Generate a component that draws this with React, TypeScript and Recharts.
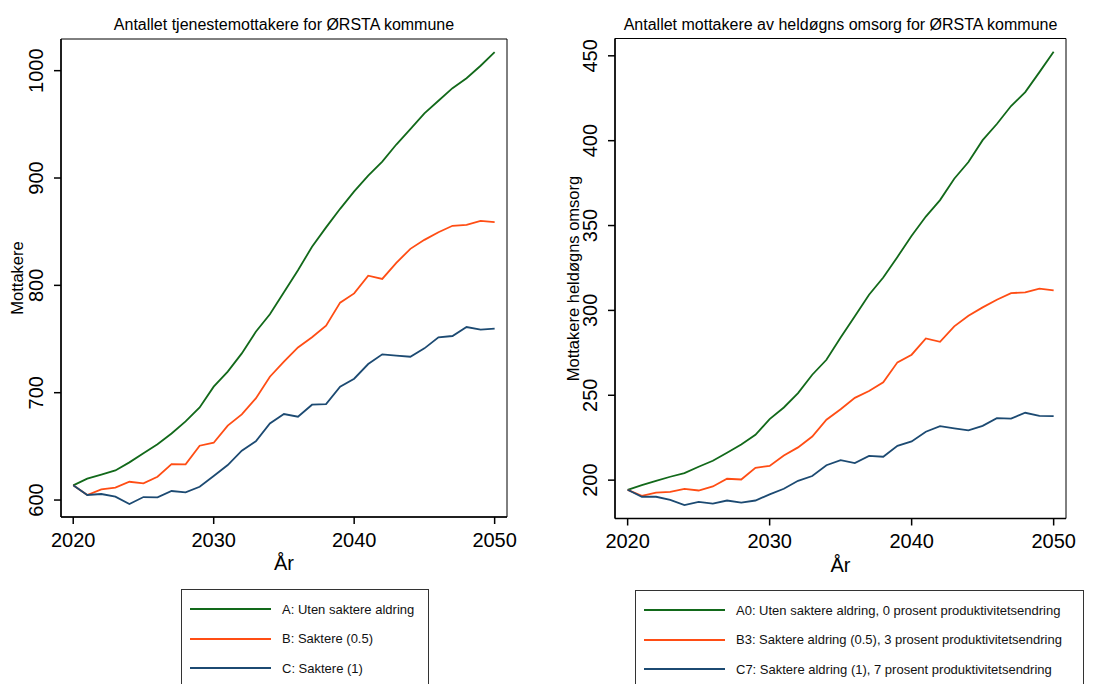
import React from 'react';
import { LineChart, Line, XAxis, YAxis, Legend, ReferenceArea, Label } from 'recharts';

const FONT = '"Liberation Sans", Arial, Helvetica, sans-serif';
const GREEN = '#12691a';
const ORANGE = '#ff4d14';
const BLUE = '#1c4a72';

const years = [
  2020, 2021, 2022, 2023, 2024, 2025, 2026, 2027, 2028, 2029, 2030,
  2031, 2032, 2033, 2034, 2035, 2036, 2037, 2038, 2039, 2040,
  2041, 2042, 2043, 2044, 2045, 2046, 2047, 2048, 2049, 2050,
];
const xTicks = [2020, 2030, 2040, 2050];

// Antallet tjenestemottakere
const tjenesteA = [613.7, 619.9, 623.6, 627.6, 635.1, 643.5, 651.9, 662, 673.3, 686.3, 705.6, 719.6, 736.6, 756.8, 773, 793.5, 814, 836, 854, 871.3, 887.5, 902.3, 915.3, 931.2, 945.5, 960.3, 972, 983.7, 993, 1004.6, 1017.3];
const tjenesteB = [613.7, 604.7, 610, 611.5, 617, 615.5, 621.7, 633.5, 633.2, 650.6, 653.4, 669.3, 679.8, 694.7, 714.9, 728.9, 742.2, 751.6, 762.4, 783.9, 792.5, 809, 806, 820.9, 834, 842.4, 849.5, 855.5, 856.4, 860, 858.9];
const tjenesteC = [613.7, 604.7, 605.6, 603.1, 596.3, 602.8, 602.5, 608.4, 607.1, 612.4, 622.4, 632.6, 646, 654.7, 671.4, 680.1, 677.6, 688.8, 689.4, 705.6, 713, 726.7, 735.7, 734.5, 733.5, 741.3, 751.6, 752.8, 761.2, 758.7, 759.6];
const tjenesteTicks = [600, 700, 800, 900, 1000];
const tjenesteNames = ['A: Uten saktere aldring', 'B: Saktere (0.5)', 'C: Saktere (1)'];

// Antallet mottakere av heldøgns omsorg
const heldognA = [194.3, 197.1, 199.6, 202, 204.1, 207.9, 211.4, 216.1, 221, 226.7, 236, 242.8, 251.3, 262.1, 270.9, 284.1, 296.5, 309.2, 319.4, 331.5, 344, 355.3, 365, 377.6, 387.4, 400.3, 409.8, 420.4, 428.6, 440.4, 452.4];
const heldognB = [194.3, 190.8, 192.7, 193.1, 194.9, 193.9, 196.3, 200.8, 200.4, 207.3, 208.4, 214.5, 219.3, 225.7, 235.6, 241.8, 248.5, 252.5, 257.6, 269.4, 273.9, 283.5, 281.5, 290.6, 296.9, 301.8, 306.3, 310.2, 310.6, 312.8, 311.8];
const heldognC = [194.3, 190.2, 190.2, 188.4, 185.3, 187.2, 186.2, 188, 186.8, 188, 191.6, 194.9, 199.6, 202.4, 208.8, 211.8, 210, 214.3, 213.8, 220.2, 222.8, 228.5, 231.8, 230.5, 229.3, 232, 236.5, 236.3, 239.7, 237.9, 237.7];
const heldognTicks = [200, 250, 300, 350, 400, 450];
const heldognNames = [
  'A0: Uten saktere aldring, 0 prosent produktivitetsendring',
  'B3: Saktere aldring (0.5), 3 prosent produktivitetsendring',
  'C7: Saktere aldring (1), 7 prosent produktivitetsendring',
];

const toRows = (a: number[], b: number[], c: number[]) =>
  years.map((year, i) => ({ year, a: a[i], b: b[i], c: c[i] }));

const XTick = ({ x, y, payload }: any) => (
  <text x={x} y={y + 22.7} textAnchor="middle" fontSize={20} fontFamily={FONT} fill="#000">
    {payload.value}
  </text>
);

const YTick = ({ x, y, payload }: any) => (
  <text x={x} y={y} transform={`rotate(-90 ${x} ${y})`} textAnchor="middle" fontSize={20} fontFamily={FONT} fill="#000">
    {payload.value}
  </text>
);

const LegendBox = ({ payload, width }: any) => (
  <div style={{
    width, height: 110, boxSizing: 'border-box', border: '1px solid #333',
    paddingTop: 4.5, fontFamily: FONT, fontSize: 13, color: '#111', background: '#fff',
  }}>
    {(payload || []).map((p: any) => (
      <div key={p.value} style={{ display: 'flex', alignItems: 'center', height: 29.5 }}>
        <span style={{ display: 'inline-block', width: 81, height: 2, marginLeft: 8.5, marginRight: 11, background: p.color }} />
        <span>{p.value}</span>
      </div>
    ))}
  </div>
);

interface PanelProps {
  left: number; width: number;
  plot: { left: number; right: number; top: number; bottom: number };
  title: string; yLabel: string;
  rows: any[]; names: string[];
  xDomain: [number, number]; yDomain: [number, number]; yTicks: number[];
  legend: { left: number; top: number; width: number };
}

const Panel = ({ left, width, plot, title, yLabel, rows, names, xDomain, yDomain, yTicks, legend }: PanelProps) => (
  <div style={{ position: 'absolute', left, top: 0 }}>
    <LineChart width={width} height={684} data={rows}
      margin={{ top: plot.top, right: width - plot.right, bottom: 684 - plot.bottom - 60, left: 0 }}>
      <text x={(plot.left + plot.right) / 2} y={29.5} textAnchor="middle" fontSize={16} fontFamily={FONT} fill="#000">
        {title}
      </text>
      <XAxis dataKey="year" type="number" domain={xDomain} ticks={xTicks} height={60}
        tickSize={7} tickMargin={0} tick={<XTick />} stroke="#000" strokeWidth={1.5} allowDataOverflow>
        <Label content={({ viewBox }: any) => (
          <text x={viewBox.x + viewBox.width / 2} y={viewBox.y + 53} textAnchor="middle" fontSize={20} fontFamily={FONT} fill="#000">År</text>
        )} />
      </XAxis>
      <YAxis type="number" domain={yDomain} ticks={yTicks} width={plot.left}
        tickSize={7} tickMargin={11} tick={<YTick />} stroke="#000" strokeWidth={1.5} allowDataOverflow>
        <Label content={({ viewBox }: any) => {
          const lx = viewBox.x + 23;
          const ly = viewBox.y + viewBox.height / 2;
          return (
            <text x={lx} y={ly} transform={`rotate(-90 ${lx} ${ly})`} textAnchor="middle" fontSize={16.5} fontFamily={FONT} fill="#000">
              {yLabel}
            </text>
          );
        }} />
      </YAxis>
      <ReferenceArea x1={xDomain[0]} x2={xDomain[1]} y1={yDomain[0]} y2={yDomain[1]} fill="none" stroke="#000" strokeWidth={1} />
      <Legend verticalAlign="middle" align="center" layout="horizontal"
        wrapperStyle={{ left: legend.left, top: legend.top, width: legend.width, height: 110 }}
        content={(props: any) => <LegendBox payload={props.payload} width={legend.width} />} />
      <Line dataKey="a" name={names[0]} stroke={GREEN} strokeWidth={1.8} dot={false} isAnimationActive={false} />
      <Line dataKey="b" name={names[1]} stroke={ORANGE} strokeWidth={1.8} dot={false} isAnimationActive={false} />
      <Line dataKey="c" name={names[2]} stroke={BLUE} strokeWidth={1.8} dot={false} isAnimationActive={false} />
    </LineChart>
  </div>
);

export default function App() {
  return (
    <div style={{ position: 'absolute', left: 0, top: 0, width: 1113, height: 684, overflow: 'hidden', background: '#fff' }}>
      <Panel left={0} width={556}
        plot={{ left: 61, right: 507, top: 39, bottom: 517 }}
        title="Antallet tjenestemottakere for ØRSTA kommune" yLabel="Mottakere"
        rows={toRows(tjenesteA, tjenesteB, tjenesteC)} names={tjenesteNames}
        xDomain={[2019.13, 2050.88]} yDomain={[584.2, 1029.5]} yTicks={tjenesteTicks}
        legend={{ left: 180.5, top: 589, width: 248 }} />
      <Panel left={556} width={557}
        plot={{ left: 59, right: 510, top: 38.5, bottom: 518.5 }}
        title="Antallet mottakere av heldøgns omsorg for ØRSTA kommune" yLabel="Mottakere heldøgns omsorg"
        rows={toRows(heldognA, heldognB, heldognC)} names={heldognNames}
        xDomain={[2019.11, 2050.87]} yDomain={[177.4, 460.2]} yTicks={heldognTicks}
        legend={{ left: 78.5, top: 590, width: 449 }} />
    </div>
  );
}
